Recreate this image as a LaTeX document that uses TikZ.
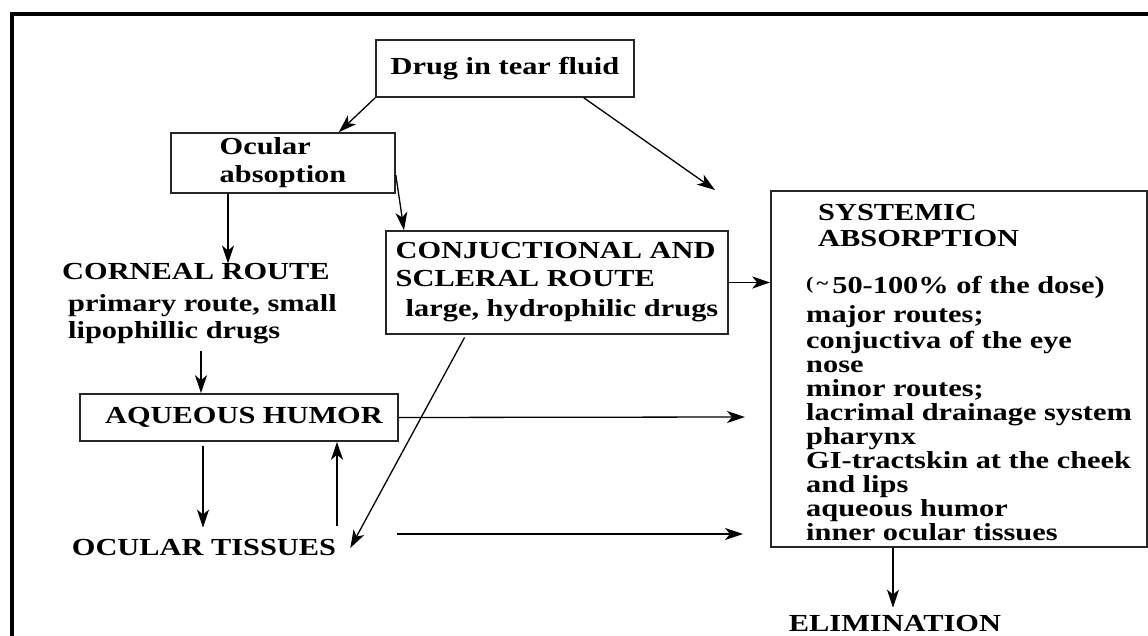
\documentclass[tikz,border=0pt]{standalone}
\usepackage{fontspec}
\setmainfont{Liberation Serif}[FakeStretch=1.24]
\usetikzlibrary{arrows.meta, positioning, calc}
\tikzset{
  txtnode/.style={inner sep=0pt,align=left,font=\fontsize{24.5}{24}\selectfont\bfseries},
  boxnode/.style={txtnode,rectangle,draw=black!85,line width=1.6pt},
  arr/.style={-{Stealth[length=18pt,width=12pt,inset=5pt]},line width=1.3pt,color=black},
  framel/.style={line width=4pt,line join=miter}
}

\begin{document}
\begin{tikzpicture}[x=1pt,y=-1pt]
  \useasboundingbox (0,0) rectangle (1148,636);

  %% outer frame (left and top only)
  \draw[framel] (12,636) -- (12,14) -- (1148,14);

  %% top of the cascade
  \node[boxnode,minimum width=258pt,minimum height=57pt] (drug) at (505,68.5)
    {Drug in tear fluid};
  \node[boxnode,minimum width=224pt,minimum height=60pt] (ocu) at (283,163)
    {Ocular\\[4pt]absoption};

  %% routes
  \node[txtnode,anchor=west] (corneal) at (62,304)
    {CORNEAL ROUTE\\[8pt]\hspace{6pt}primary route, small\\[3pt]\hspace{6pt}lipophillic drugs};
  \node[boxnode,minimum width=342pt,minimum height=103pt] (conj) at (557,282.5)
    {CONJUCTIONAL AND\\[4pt]SCLERAL ROUTE\\[6pt]\hspace{10pt}large, hydrophilic drugs};

  %% eye compartments
  \node[boxnode,minimum width=318pt,minimum height=47pt] (aq) at (239,417.5)
    {\hspace{10pt}AQUEOUS HUMOR};
  \node[txtnode] (tis) at (204,548) {OCULAR TISSUES};

  %% systemic absorption
  \node[boxnode,minimum width=376pt,minimum height=356pt] (sys) at (959,369) {};
  \node[txtnode,anchor=north west] (systxt) at (806,204)
    {\hspace{12pt}SYSTEMIC\\[2pt]
     \hspace{12pt}ABSORPTION\\[23pt]
     {\raisebox{4pt}{\fontsize{18}{18}\selectfont(\,\textasciitilde}}\,50-100\% of the dose)\\[5pt]
     major routes;\\[2pt]
     conjuctiva of the eye\\
     nose\\
     minor routes;\\
     lacrimal drainage system\\
     pharynx\\
     GI-tractskin at the cheek\\
     and lips\\
     aqueous humor\\
     inner ocular tissues};
  \node[txtnode] (elim) at (895,624) {ELIMINATION};

  %% free ends near the systemic box
  \coordinate (sysin) at (715,190);
  \coordinate (aqout) at (745,417);
  \coordinate (tisout) at (743,534);

  %% ── ARROWS ──────────────────────────────
  \draw[arr] (drug.south west) -- ([xshift=-57pt]ocu.north east);
  \draw[arr] ([xshift=-51pt]drug.south east) -- (sysin);
  \draw[arr] ([xshift=-55pt]ocu.south) -- ([xshift=-55pt]ocu.south |- corneal.north);
  \draw[arr] ([yshift=-12pt]ocu.east) -- ([xshift=-153pt]conj.north);
  \draw[arr] (conj.east) -- (conj.east -| sys.west);
  \draw[arr,shorten <=6pt] ([xshift=-38pt]aq.north |- corneal.south) -- ([xshift=-38pt]aq.north);
  \draw[arr] (aq.east) -- (aqout);
  \draw[arr,shorten <=4pt,shorten >=12pt] ([xshift=-36pt]aq.south) -- ([xshift=-36pt]aq.south |- tis.north);
  \draw[arr,shorten <=14pt] ([xshift=98pt]aq.south |- tis.north) -- ([xshift=98pt]aq.south);
  \draw[arr,shorten <=3pt] ([xshift=-91pt]conj.south) -- ([xshift=14pt]tis.east);
  \draw[arr] ([xshift=61pt,yshift=14pt]tis.east) -- (tisout);
  \draw[arr,shorten >=8pt] ([xshift=-66pt]sys.south) -- ([xshift=-66pt]sys.south |- elim.north);

\end{tikzpicture}
\end{document}
